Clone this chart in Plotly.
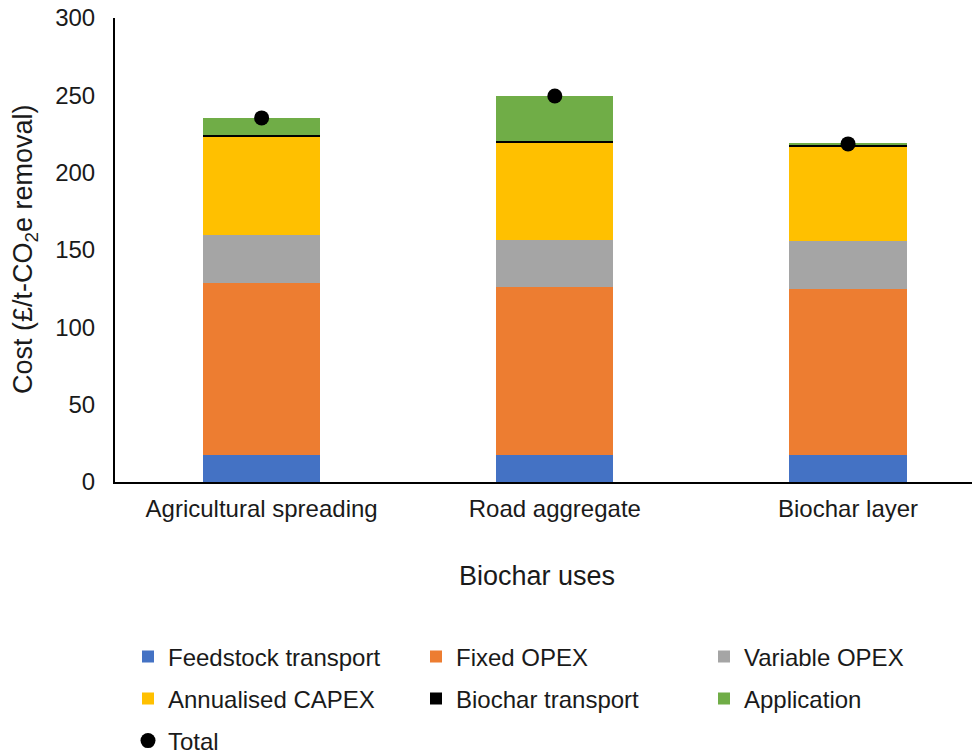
import plotly.graph_objects as go

categories = ["Agricultural spreading", "Road aggregate", "Biochar layer"]
feedstock_transport = [17.5, 17.5, 17.5]
fixed_opex = [111.0, 108.5, 107.3]
variable_opex = [31.0, 30.4, 31.0]
annualised_capex = [63.3, 62.6, 61.0]
biochar_transport = [1.4, 1.4, 1.3]
application = [11.2, 29.2, 0.5]
total = [round(sum(v), 1) for v in zip(feedstock_transport, fixed_opex, variable_opex,
                                        annualised_capex, biochar_transport, application)]

series = [
    ("Feedstock transport", feedstock_transport, "#4472C4", "legend"),
    ("Fixed OPEX", fixed_opex, "#ED7D31", "legend"),
    ("Variable OPEX", variable_opex, "#A5A5A5", "legend"),
    ("Annualised CAPEX", annualised_capex, "#FFC000", "legend2"),
    ("Biochar transport", biochar_transport, "#000000", "legend2"),
    ("Application", application, "#70AD47", "legend2"),
]

FONT = "Liberation Sans, Arial, sans-serif"
TXT = "#1a1a1a"
TICK = 24
TITLE = 27

fig = go.Figure()
for name, vals, color, leg in series:
    fig.add_trace(go.Bar(x=categories, y=vals, name=name, marker_color=color,
                         marker_line_width=0, width=0.4, legend=leg))

fig.add_trace(go.Scatter(x=categories, y=total, name="Total", mode="markers",
                         marker=dict(color="black", size=15, symbol="circle"),
                         legend="legend3"))

# the page body has an 8px margin, so the figure is drawn 8px smaller
OFF = 8
W, H = 980 - OFF, 753 - OFF
ml, mt = 115 - OFF, 18 - OFF
mb = H - (482 - OFF)
plot_h = H - mt - mb


def py(p):
    """reference pixel y -> paper y"""
    return (H - mb - (p - OFF)) / plot_h


def px(p):
    """reference pixel x -> paper x"""
    return (p - OFF - ml) / (W - ml)


leg_common = dict(orientation="h", xanchor="left", yanchor="middle",
                  entrywidth=243, entrywidthmode="pixels", traceorder="normal",
                  font=dict(family=FONT, size=TICK, color=TXT),
                  bgcolor="rgba(0,0,0,0)", itemclick=False, itemdoubleclick=False)

fig.update_layout(
    width=W, height=H,
    margin=dict(l=ml, r=0, t=mt, b=mb, autoexpand=False),
    barmode="stack",
    plot_bgcolor="white", paper_bgcolor="white",
    font=dict(family=FONT, size=TICK, color=TXT),
    xaxis=dict(range=[-0.5, 2.45], showline=True, linecolor="black", linewidth=2,
               ticks="", showgrid=False, zeroline=False,
               tickfont=dict(size=TICK, color=TXT), ticklabelstandoff=4),
    yaxis=dict(range=[0, 300], dtick=50, showline=True, linecolor="black", linewidth=2,
               ticks="", showgrid=False, zeroline=False, ticklabeloverflow="allow",
               tickfont=dict(size=TICK, color=TXT), ticklabelstandoff=13),
    legend=dict(x=px(128), y=py(657), **leg_common),
    legend2=dict(x=px(128), y=py(699), **leg_common),
    legend3=dict(x=px(128), y=py(741), **leg_common),
    showlegend=True,
    annotations=[
        dict(text="Biochar uses", x=px(537), y=py(576), xref="paper", yref="paper",
             xanchor="center", yanchor="middle", showarrow=False,
             font=dict(family=FONT, size=TITLE, color=TXT)),
        dict(text="Cost (£/t-CO<sub>2</sub>e removal)", x=px(25), y=py(249),
             xref="paper", yref="paper", xanchor="center", yanchor="middle",
             textangle=-90, showarrow=False,
             font=dict(family=FONT, size=TITLE, color=TXT)),
    ],
)

fig.write_html("out.html")
